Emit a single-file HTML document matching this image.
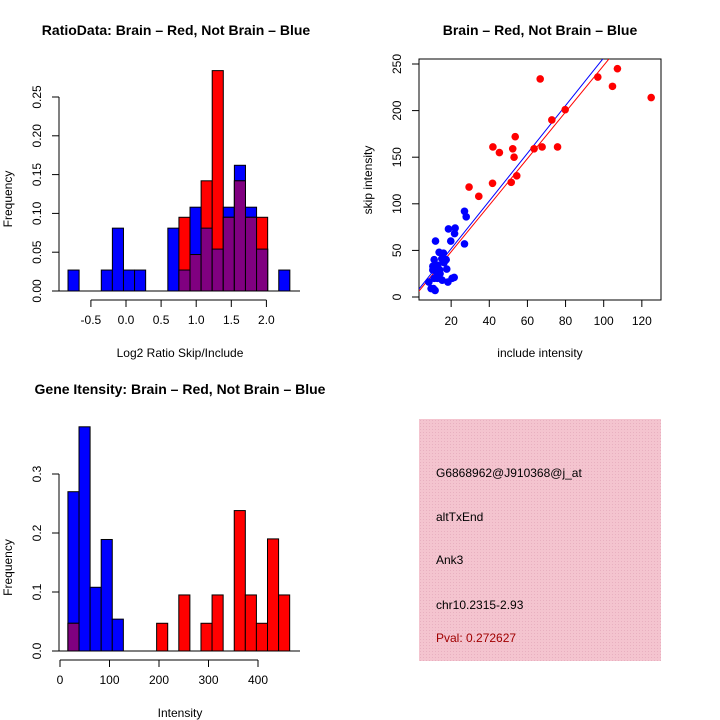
<!DOCTYPE html>
<html><head><meta charset="utf-8"><style>
body{margin:0;background:#fff;}
svg{display:block;font-family:"Liberation Sans",sans-serif;}
</style></head><body>
<svg id="c" width="720" height="720" xmlns="http://www.w3.org/2000/svg">
<rect width="720" height="720" fill="#fff"/>
<defs><pattern id="hatch" width="3" height="3" patternUnits="userSpaceOnUse"><rect width="3" height="3" fill="#f4c4cf"/><rect width="1" height="1" fill="#e8b0c0"/></pattern></defs>
<g id="p1"></g>
<g id="p2"></g>
<g id="p3"></g>
<g>
<rect x="419" y="419" width="242" height="242" fill="url(#hatch)"/>
<text x="436" y="477" font-size="12">G6868962@J910368@j_at</text>
<text x="436" y="521" font-size="12">altTxEnd</text>
<text x="436" y="564" font-size="12">Ank3</text>
<text x="436" y="609" font-size="12">chr10.2315-2.93</text>
<text x="436" y="642" font-size="12" fill="#a00000">Pval: 0.272627</text>
</g>
</svg>
<script>
// Plot 1 data
const ratioStart = -0.826, ratioBin = 0.158;
const ratioBlue = [0.027,0,0,0.027,0.081,0.027,0.027,0,0,0.081,0.027,0.108,0.081,0.054,0.108,0.162,0.108,0.054,0,0.027];
const ratioRed  = [0,0,0,0,0,0,0,0,0,0,0.095,0.047,0.142,0.284,0.095,0.142,0.095,0.095,0,0];
const ratioXTicks = [-0.5,0,0.5,1,1.5,2];
const ratioXLabels = ["-0.5","0.0","0.5","1.0","1.5","2.0"];
const ratioYTicks = [0,0.05,0.1,0.15,0.2,0.25];
const ratioYLabels = ["0.00","0.05","0.10","0.15","0.20","0.25"];
// Plot 2 data
const redX = [66.7,96.9,107.2,104.6,124.9,79.8,72.8,41.9,45.3,53.6,52.3,53,63.5,67.7,75.8,54.4,51.5,41.7,29.4,34.5];
const redY = [234,236,245,226,214,201,190,161,155,172,159,150,159,161,161,130,123,122,118,108];
const blueX = [27,27.9,27,18.6,22.1,21.8,19.8,11.8,13.7,16,15.1,17.4,11.1,10.4,13,16.3,17.7,12.5,14.2,11.1,12.8,15.3,18.3,20.5,21.6,8.3,9.5,11.6,10.7,10.4,14];
const blueY = [92,86,57,73,74,68,60,60,48,47,41,40,40,33,34,37,30,26,25,20,20,18,16,20,21,16,9,7,9,29,29];
const fitBlue = [0.6,2.56];
const fitRed = [-1.5,2.50];
const scXTicks = [20,40,60,80,100,120];
const scYTicks = [0,50,100,150,200,250];
// Plot 3 data
const intStart = 16, intBin = 22.4;
const intBlue = [0.27,0.38,0.108,0.189,0.054,0,0,0,0,0,0,0,0,0,0,0,0,0,0,0];
const intRed  = [0.047,0,0,0,0,0,0,0,0.047,0,0.095,0,0.047,0.095,0,0.238,0.095,0.047,0.19,0.095];
const intXTicks = [0,100,200,300,400];
const intYTicks = [0,0.1,0.2,0.3];
const intYLabels = ["0.0","0.1","0.2","0.3"];

const NS="http://www.w3.org/2000/svg";
function el(p,tag,attrs,txt){const e=document.createElementNS(NS,tag);for(const k in attrs)e.setAttribute(k,attrs[k]);if(txt!==undefined)e.textContent=txt;p.appendChild(e);return e;}

function hist(g,sx,sy,start,bin,blue,red,xt,xl,yt,yl,axY,yAxX,title,tx,ty,xlab,xlabY){
  for(let i=0;i<blue.length;i++){
    const x0=sx(start+i*bin),x1=sx(start+(i+1)*bin),b=blue[i],r=red[i];
    if(b>0){const e=el(g,'rect',{x:x0,y:sy(b),width:x1-x0,height:sy(0)-sy(b),fill:'#0000ff',stroke:'#000'});
      
      }
    if(r>0){const e=el(g,'rect',{x:x0,y:sy(r),width:x1-x0,height:sy(0)-sy(r),fill:'#ff0000',stroke:'#000'});
      
      }
    const m=Math.min(b,r);
    if(m>0){const e=el(g,'rect',{x:x0,y:sy(m),width:x1-x0,height:sy(0)-sy(m),fill:'#800080',stroke:'#000'});
      
      }
  }
  const base=el(g,'line',{x1:52,x2:300,y1:sy(0),y2:sy(0),stroke:'#000'});
  
  
  const xa=el(g,'line',{x1:sx(xt[0]),x2:sx(xt[xt.length-1]),y1:axY,y2:axY,stroke:'#000'});
  
  
  xt.forEach((v,i)=>{el(g,'line',{x1:sx(v),x2:sx(v),y1:axY,y2:axY+7,stroke:'#000'});
    const t=el(g,'text',{x:sx(v),y:axY+24,'font-size':12,'text-anchor':'middle'},xl[i]);
    
    });
  const ya=el(g,'line',{x1:yAxX,x2:yAxX,y1:sy(yt[0]),y2:sy(yt[yt.length-1]),stroke:'#000'});
  
  
  yt.forEach((v,i)=>{el(g,'line',{x1:yAxX-7,x2:yAxX,y1:sy(v),y2:sy(v),stroke:'#000'});
    const t=el(g,'text',{x:0,y:0,'font-size':12,'text-anchor':'middle',transform:`translate(${yAxX-18},${sy(v)}) rotate(-90)`},yl[i]);
    
    });
  const tt=el(g,'text',{x:tx,y:ty,'font-size':14,'font-weight':'bold','text-anchor':'middle'},title);
  
  
  const xl2=el(g,'text',{x:180,y:xlabY,'font-size':12,'text-anchor':'middle'},xlab);
  
  
  const yl2=el(g,'text',{x:0,y:0,'font-size':12,'text-anchor':'middle',transform:`translate(12,${(sy(0)+sy(yt[yt.length-1]))/2+5}) rotate(-90)`},'Frequency');
  
  
}
// Plot 1
hist(document.getElementById('p1'),v=>126+v*70.2,v=>291-v*776,ratioStart,ratioBin,ratioBlue,ratioRed,
  ratioXTicks,ratioXLabels,ratioYTicks,ratioYLabels,300,59,'RatioData: Brain \u2013 Red, Not Brain \u2013 Blue',176,35,'Log2 Ratio Skip/Include',357);
// Plot 3
hist(document.getElementById('p3'),v=>60+v*0.495,v=>651-v*590,intStart,intBin,intBlue,intRed,
  intXTicks,intXTicks.map(String),intYTicks,intYLabels,660,59,'Gene Itensity: Brain \u2013 Red, Not Brain \u2013 Blue',180,394,'Intensity',717);

// Plot 2 scatter
(function(){
  const g=document.getElementById('p2');
  const L=419,R=661,T=59,B=300;
  const sx=v=>413+v*1.907, sy=v=>297-v*0.932;
  const box=el(g,'rect',{x:L,y:T,width:R-L,height:B-T,fill:'none',stroke:'#000'});
  
  
  const cp=el(g,'clipPath',{id:'scclip'});el(cp,'rect',{x:L,y:T,width:R-L,height:B-T});
  [[fitBlue,'#0000ff','blue-fit-line'],[fitRed,'#ff0000','red-fit-line']].forEach(([f,c,n])=>{
    const x1=0,x2=140;
    const ln=el(g,'line',{x1:sx(x1),y1:sy(f[0]+f[1]*x1),x2:sx(x2),y2:sy(f[0]+f[1]*x2),stroke:c,'clip-path':'url(#scclip)'});
    
    
  });
  blueX.forEach((x,i)=>{const c=el(g,'circle',{cx:sx(x),cy:sy(blueY[i]),r:3.8,fill:'#0000ff'});
    
    });
  redX.forEach((x,i)=>{const c=el(g,'circle',{cx:sx(x),cy:sy(redY[i]),r:3.8,fill:'#ff0000'});
    
    });
  scXTicks.forEach(v=>{el(g,'line',{x1:sx(v),x2:sx(v),y1:B,y2:B+7,stroke:'#000'});
    const t=el(g,'text',{x:sx(v),y:B+25,'font-size':12,'text-anchor':'middle'},String(v));
    
    });
  scYTicks.forEach(v=>{el(g,'line',{x1:L-7,x2:L,y1:sy(v),y2:sy(v),stroke:'#000'});
    const t=el(g,'text',{x:0,y:0,'font-size':12,'text-anchor':'middle',transform:`translate(${L-18},${sy(v)}) rotate(-90)`},String(v));
    
    });
  const tt=el(g,'text',{x:540,y:35,'font-size':14,'font-weight':'bold','text-anchor':'middle'},'Brain \u2013 Red, Not Brain \u2013 Blue');
  
  
  const xt=el(g,'text',{x:540,y:357,'font-size':12,'text-anchor':'middle'},'include intensity');
  
  
  const yt=el(g,'text',{x:0,y:0,'font-size':12,'text-anchor':'middle',transform:'translate(372,180) rotate(-90)'},'skip intensity');
  
  
})();
</script>
</body></html>
